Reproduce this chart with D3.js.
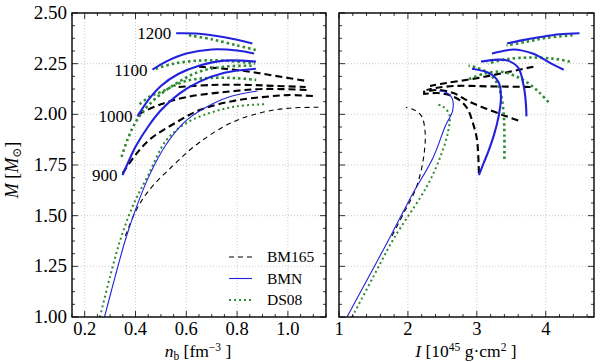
<!DOCTYPE html>
<html>
<head>
<meta charset="utf-8">
<script src="https://cdn.jsdelivr.net/npm/d3@7"></script>
<style>
  body { margin: 0; background: #fff; }
  text { font-family: "Liberation Serif", "DejaVu Serif", serif; }
</style>
</head>
<body>
<svg id="chart" width="600" height="362"></svg>
<script>
// ---- data ----
// left panel: [n_b, M], right panel: [I, M]
var bm165Thin_n = [[0.36,1.40],[0.40,1.52],[0.45,1.62],[0.55,1.75],[0.65,1.86],[0.78,1.96],[0.90,2.01],[1.00,2.03],[1.12,2.035]];
var bm165Thin_I = [[1.77,1.40],[1.95,1.52],[2.10,1.62],[2.19,1.72],[2.24,1.82],[2.25,1.91],[2.20,1.99],[2.10,2.02],[1.97,2.035]];
var bm165_900_n = [[0.35,1.71],[0.40,1.80],[0.46,1.88],[0.56,1.96],[0.65,2.02],[0.78,2.065],[0.90,2.085],[1.00,2.095],[1.10,2.09]];
var bm165_900_I = [[3.03,1.71],[3.02,1.80],[3.00,1.88],[2.94,1.96],[2.86,2.03],[2.75,2.07],[2.60,2.095],[2.43,2.105],[2.22,2.10]];
var bm165_1000_n = [[0.41,2.00],[0.50,2.05],[0.60,2.085],[0.75,2.11],[0.90,2.125],[1.08,2.12]];
var bm165_1000_I = [[3.60,1.97],[3.35,2.00],[2.91,2.06],[2.66,2.105],[2.43,2.12],[2.22,2.11]];
var bm165_1100_n = [[0.57,2.135],[0.70,2.145],[0.85,2.145],[0.95,2.14],[1.07,2.135]];
var bm165_1100_I = [[3.78,2.135],[3.17,2.138],[2.69,2.14],[2.40,2.13],[2.27,2.12]];
var bm165_1200_n = [[0.65,2.235],[0.75,2.225],[0.85,2.21],[0.95,2.19],[1.07,2.165]];
var bm165_1200_I = [[3.82,2.235],[3.33,2.20],[2.94,2.175],[2.56,2.155],[2.32,2.14]];

var bmnThin_n = [[0.278,1.00],[0.32,1.20],[0.36,1.38],[0.40,1.53],[0.455,1.70],[0.52,1.85],[0.60,1.97],[0.70,2.05],[0.78,2.09],[0.88,2.115]];
var bmnThin_I = [[1.116,1.00],[1.45,1.21],[1.75,1.40],[2.04,1.59],[2.37,1.79],[2.54,1.94],[2.65,2.02],[2.64,2.08],[2.54,2.11],[2.45,2.115]];
var bmn_900_n = [[0.349,1.70],[0.37,1.76],[0.40,1.84],[0.45,1.94],[0.50,2.02],[0.57,2.10],[0.65,2.16],[0.75,2.205],[0.874,2.225]];
var bmn_900_I = [[3.03,1.70],[3.10,1.76],[3.17,1.82],[3.25,1.90],[3.31,1.98],[3.35,2.08],[3.32,2.155],[3.20,2.20],[2.93,2.225]];
var bmn_1000_n = [[0.408,1.99],[0.45,2.07],[0.50,2.14],[0.57,2.20],[0.65,2.24],[0.75,2.265],[0.874,2.26]];
var bmn_1000_I = [[3.72,1.99],[3.71,2.06],[3.68,2.14],[3.60,2.23],[3.45,2.265],[3.30,2.27],[3.06,2.26]];
var bmn_1100_n = [[0.467,2.22],[0.52,2.26],[0.60,2.30],[0.70,2.32],[0.80,2.315],[0.867,2.30]];
var bmn_1100_I = [[4.26,2.22],[4.11,2.245],[3.81,2.30],[3.53,2.32],[3.35,2.31],[3.22,2.30]];
var bmn_1200_n = [[0.56,2.40],[0.65,2.398],[0.75,2.38],[0.86,2.35]];
var bmn_1200_I = [[4.49,2.40],[4.20,2.395],[3.90,2.38],[3.65,2.365],[3.44,2.35]];

var ds08Thin_n = [[0.26,1.00],[0.30,1.20],[0.34,1.38],[0.39,1.55],[0.45,1.70],[0.52,1.87],[0.60,1.957],[0.70,2.01],[0.80,2.04],[0.91,2.05]];
var ds08Thin_I = [[1.19,1.00],[1.50,1.20],[1.80,1.39],[2.18,1.59],[2.33,1.68],[2.47,1.79],[2.58,1.91],[2.60,2.00],[2.50,2.04],[2.40,2.05]];
var ds08_900_n = [[0.345,1.79],[0.37,1.88],[0.40,1.96],[0.44,2.03],[0.50,2.10],[0.57,2.16],[0.65,2.21],[0.75,2.235],[0.87,2.24]];
var ds08_900_I = [[3.40,1.78],[3.40,1.90],[3.39,2.00],[3.36,2.08],[3.30,2.15],[3.18,2.20],[3.00,2.23],[2.88,2.24]];
var ds08_1000_n = [[0.416,2.05],[0.46,2.09],[0.50,2.11],[0.60,2.165],[0.70,2.18],[0.80,2.178],[0.875,2.17]];
var ds08_1000_I = [[4.04,2.06],[3.90,2.11],[3.74,2.155],[3.55,2.19],[3.35,2.21],[3.10,2.20],[2.86,2.17]];
var ds08_1100_n = [[0.48,2.225],[0.55,2.25],[0.65,2.265],[0.75,2.265],[0.87,2.25]];
var ds08_1100_I = [[4.35,2.26],[4.10,2.275],[3.74,2.28],[3.40,2.27],[3.16,2.25]];
var ds08_1200_n = [[0.61,2.39],[0.70,2.37],[0.80,2.34],[0.875,2.317]];
var ds08_1200_I = [[4.39,2.39],[4.00,2.377],[3.71,2.357],[3.43,2.34]];

var freqLabels = ["900", "1000", "1100", "1200"];
var legendNames = ["BM165", "BMN", "DS08"];
var yTicks = [1.00, 1.25, 1.50, 1.75, 2.00, 2.25, 2.50];
var nTicks = [0.2, 0.4, 0.6, 0.8, 1.0];
var iTicks = [1, 2, 3, 4];

// ---- styles ----
var styles = {
  BM165: {color: "#000", thick: 2.1, thin: 1.1, dashThick: "7,4", dashThin: "5,4"},
  BMN:   {color: "#2222dd", thick: 2.1, thin: 1.1, dashThick: null, dashThin: null},
  DS08:  {color: "#2e8b2e", thick: 2.6, thin: 2.0, dashThick: "2.5,3", dashThin: "2,3"}
};

var curves = [
  {eos: "BM165", thin: true, n: bm165Thin_n, I: bm165Thin_I},
  {eos: "BM165", n: bm165_900_n, I: bm165_900_I},
  {eos: "BM165", n: bm165_1000_n, I: bm165_1000_I},
  {eos: "BM165", n: bm165_1100_n, I: bm165_1100_I},
  {eos: "BM165", n: bm165_1200_n, I: bm165_1200_I},
  {eos: "DS08", thin: true, n: ds08Thin_n, I: ds08Thin_I},
  {eos: "DS08", n: ds08_900_n, I: ds08_900_I},
  {eos: "DS08", n: ds08_1000_n, I: ds08_1000_I},
  {eos: "DS08", n: ds08_1100_n, I: ds08_1100_I},
  {eos: "DS08", n: ds08_1200_n, I: ds08_1200_I},
  {eos: "BMN", thin: true, n: bmnThin_n, I: bmnThin_I},
  {eos: "BMN", n: bmn_900_n, I: bmn_900_I},
  {eos: "BMN", n: bmn_1000_n, I: bmn_1000_I},
  {eos: "BMN", n: bmn_1100_n, I: bmn_1100_I},
  {eos: "BMN", n: bmn_1200_n, I: bmn_1200_I}
];
var labelCurves = [bmn_900_n, bmn_1000_n, bmn_1100_n, bmn_1200_n];

var plotTop = 13, plotBottom = 317;
var panels = [
  {key: "n", x0: 72, x1: 326, domain: [0.15, 1.15], ticks: nTicks, minor: 0.05, fmt: d3.format(".1f")},
  {key: "I", x0: 339, x1: 594, domain: [1, 4.7], ticks: iTicks, minor: 0.2, fmt: d3.format("d")}
];

var svg = d3.select("#chart");
var y = d3.scaleLinear().domain([1.0, 2.5]).range([plotBottom, plotTop]);
var yMinor = d3.range(1.0, 2.5001, 0.0625);

panels.forEach(function(p, pi) {
  var x = d3.scaleLinear().domain(p.domain).range([p.x0, p.x1]);
  p.x = x;
  var g = svg.append("g");

  var clipId = "clip" + pi;
  svg.append("clipPath").attr("id", clipId)
    .append("rect").attr("x", p.x0).attr("y", plotTop)
    .attr("width", p.x1 - p.x0).attr("height", plotBottom - plotTop);

  // grid
  g.selectAll(".vg").data(p.ticks).enter().append("line")
    .attr("x1", d => x(d)).attr("x2", d => x(d))
    .attr("y1", plotTop).attr("y2", plotBottom)
    .attr("stroke", "#bbb").attr("stroke-width", 0.8).attr("stroke-dasharray", "1,2");
  g.selectAll(".hg").data(yTicks).enter().append("line")
    .attr("x1", p.x0).attr("x2", p.x1)
    .attr("y1", d => y(d)).attr("y2", d => y(d))
    .attr("stroke", "#bbb").attr("stroke-width", 0.8).attr("stroke-dasharray", "1,2");

  // curves
  var line = d3.line().curve(d3.curveCatmullRom.alpha(0.5))
    .x(d => x(d[0])).y(d => y(d[1]));
  var cg = g.append("g").attr("clip-path", "url(#" + clipId + ")");
  curves.forEach(function(c) {
    var s = styles[c.eos];
    cg.append("path")
      .datum(c[p.key])
      .attr("fill", "none")
      .attr("stroke", s.color)
      .attr("stroke-width", c.thin ? s.thin : s.thick)
      .attr("stroke-dasharray", c.thin ? s.dashThin : s.dashThick)
      .attr("d", line);
  });

  // ticks on all four sides, pointing inward
  var xMinor = d3.range(Math.ceil(p.domain[0] / p.minor - 1e-9) * p.minor, p.domain[1] + 1e-9, p.minor);
  xMinor.forEach(function(v) {
    var major = p.ticks.some(t => Math.abs(t - v) < 1e-6);
    var len = major ? 6 : 3;
    g.append("line").attr("x1", x(v)).attr("x2", x(v)).attr("y1", plotBottom).attr("y2", plotBottom - len)
      .attr("stroke", "#000").attr("stroke-width", 0.8);
    g.append("line").attr("x1", x(v)).attr("x2", x(v)).attr("y1", plotTop).attr("y2", plotTop + len)
      .attr("stroke", "#000").attr("stroke-width", 0.8);
  });
  yMinor.forEach(function(v) {
    var major = yTicks.some(t => Math.abs(t - v) < 1e-6);
    var len = major ? 6 : 3;
    g.append("line").attr("x1", p.x0).attr("x2", p.x0 + len).attr("y1", y(v)).attr("y2", y(v))
      .attr("stroke", "#000").attr("stroke-width", 0.8);
    g.append("line").attr("x1", p.x1).attr("x2", p.x1 - len).attr("y1", y(v)).attr("y2", y(v))
      .attr("stroke", "#000").attr("stroke-width", 0.8);
  });

  // frame
  g.append("rect").attr("x", p.x0).attr("y", plotTop)
    .attr("width", p.x1 - p.x0).attr("height", plotBottom - plotTop)
    .attr("fill", "none").attr("stroke", "#000").attr("stroke-width", 1.4);

  // x tick labels
  g.selectAll(".xl").data(p.ticks).enter().append("text")
    .attr("x", d => x(d)).attr("y", 335)
    .attr("text-anchor", "middle").attr("font-size", 18.5)
    .text(d => p.fmt(d));
});

// y tick labels (left panel only)
svg.selectAll(".yl").data(yTicks).enter().append("text")
  .attr("x", 67).attr("y", d => y(d) + 6)
  .attr("text-anchor", "end").attr("font-size", 19)
  .text(d => d3.format(".2f")(d));

// frequency labels next to the BMN curve starts
var xl = panels[0].x;
labelCurves.forEach(function(c, i) {
  svg.append("text")
    .attr("x", xl(c[0][0]) - 5).attr("y", y(c[0][1]) + 6)
    .attr("text-anchor", "end").attr("font-size", 17)
    .text(freqLabels[i]);
});

// legend
var lg = svg.append("g");
legendNames.forEach(function(name, i) {
  var s = styles[name];
  var ly = 257 + i * 21.5;
  lg.append("line").attr("x1", 229).attr("x2", 252).attr("y1", ly).attr("y2", ly)
    .attr("stroke", s.color).attr("stroke-width", s.thin)
    .attr("stroke-dasharray", s.dashThin);
  lg.append("text").attr("x", 267).attr("y", ly + 5).attr("font-size", 15.5).text(name);
});

// axis labels
var yl = svg.append("text").attr("transform", "translate(18,170) rotate(-90)")
  .attr("text-anchor", "middle").attr("font-size", 18);
yl.append("tspan").attr("font-style", "italic").text("M");
yl.append("tspan").text(" [");
yl.append("tspan").attr("font-style", "italic").text("M");
yl.append("tspan").attr("font-size", 12).attr("dy", 3).text("\u2299");
yl.append("tspan").attr("dy", -3).text("]");

var nl = svg.append("text").attr("x", 198).attr("y", 357)
  .attr("text-anchor", "middle").attr("font-size", 17.5);
nl.append("tspan").attr("font-style", "italic").text("n");
nl.append("tspan").attr("font-size", 11.5).attr("dy", 3).text("b");
nl.append("tspan").attr("dy", -3).text(" [fm");
nl.append("tspan").attr("font-size", 11.5).attr("dy", -6).text("\u22123");
nl.append("tspan").attr("dy", 6).text(" ]");

var il = svg.append("text").attr("x", 466).attr("y", 357)
  .attr("text-anchor", "middle").attr("font-size", 17.5);
il.append("tspan").attr("font-style", "italic").text("I");
il.append("tspan").text(" [10");
il.append("tspan").attr("font-size", 11.5).attr("dy", -6).text("45");
il.append("tspan").attr("dy", 6).text("  g\u00b7cm");
il.append("tspan").attr("font-size", 11.5).attr("dy", -6).text("2");
il.append("tspan").attr("dy", 6).text(" ]");
</script>
</body>
</html>
